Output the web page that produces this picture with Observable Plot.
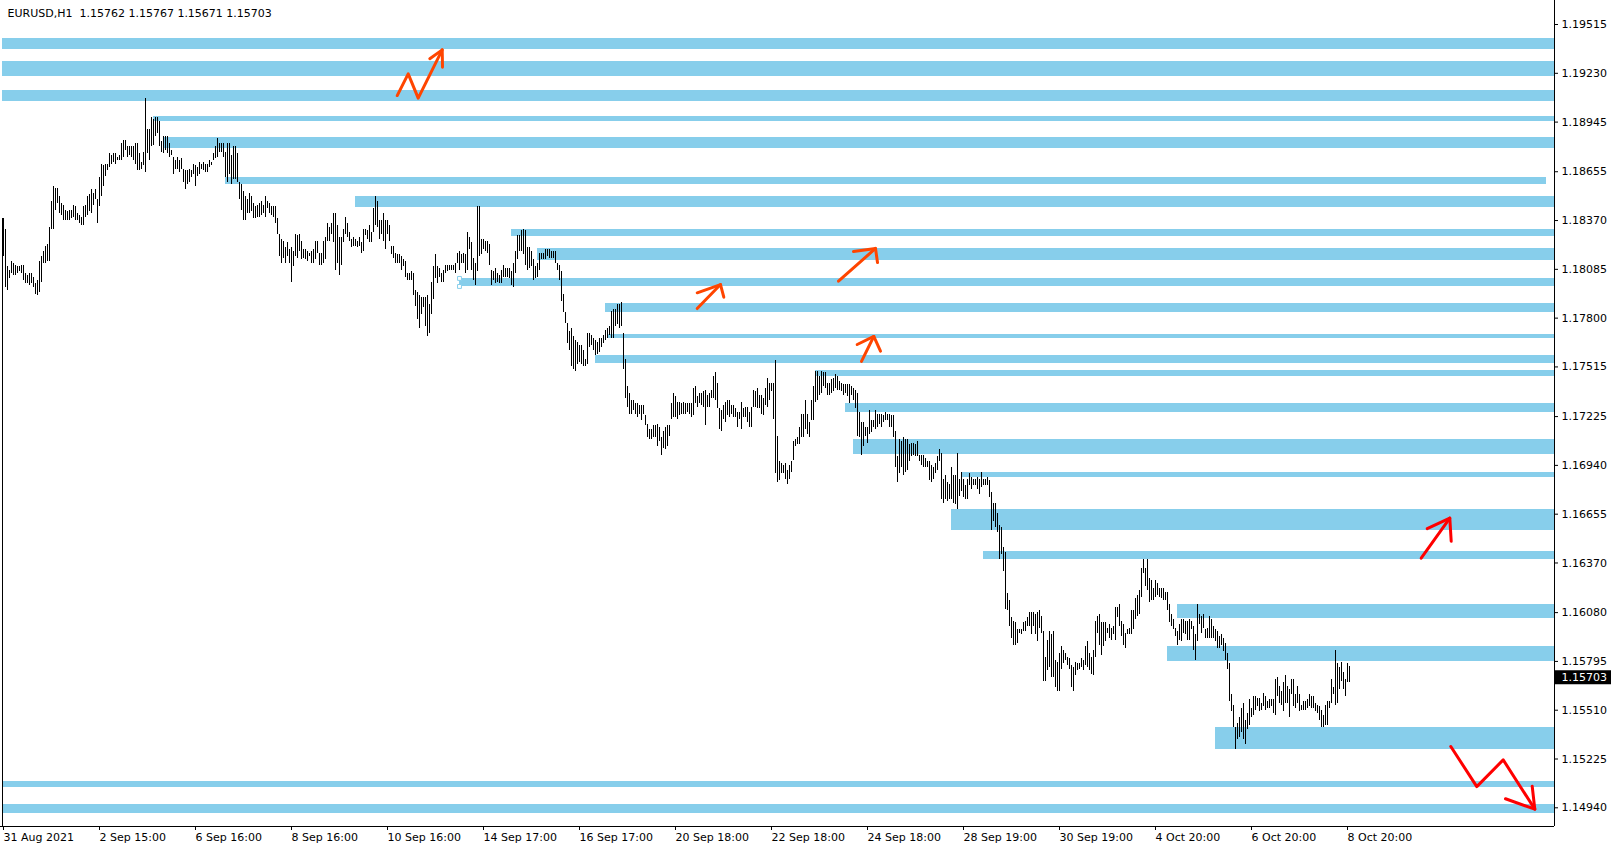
<!DOCTYPE html>
<html>
<head>
<meta charset="utf-8">
<script src="https://cdn.jsdelivr.net/npm/d3@7"></script>
<script src="https://cdn.jsdelivr.net/npm/@observablehq/plot@0.6"></script>
<style>
  html, body { margin: 0; padding: 0; background: #ffffff; overflow: hidden; }
  #chart { width: 1618px; height: 850px; }
</style>
</head>
<body>
<div id="chart"></div>
<script>
// ---- last bar (title) ----
const symbolName = "EURUSD,H1";
const lastOpen = 1.15762, lastHigh = 1.15767, lastLow = 1.15671, lastClose = 1.15703;

// ---- hourly bars: highs / lows (31 Aug 2021 -> 8 Oct 2021) ----
const highs = [
1.1838,1.1832,1.1810,1.1808,1.1813,1.1812,1.1811,1.1810,1.1810,1.1811,1.1811,1.1806,1.1805,1.1806,1.1806,1.1804,1.1800,1.1802,1.1813,1.1816,
1.1819,1.1822,1.1823,1.1833,1.1848,1.1857,1.1856,1.1856,1.1851,1.1847,1.1846,1.1843,1.1842,1.1843,1.1843,1.1846,1.1845,1.1841,1.1840,1.1839,
1.1845,1.1846,1.1851,1.1852,1.1855,1.1853,1.1855,1.1849,1.1862,1.1870,1.1869,1.1870,1.1870,1.1876,1.1875,1.1876,1.1876,1.1874,1.1875,1.1882,
1.1884,1.1884,1.1880,1.1880,1.1880,1.1880,1.1882,1.1882,1.1876,1.1871,1.1877,1.1908,1.1890,1.1890,1.1897,1.1896,1.1897,1.1897,1.1895,1.1883,
1.1886,1.1886,1.1886,1.1882,1.1878,1.1874,1.1872,1.1874,1.1872,1.1873,1.1867,1.1866,1.1866,1.1867,1.1866,1.1870,1.1869,1.1868,1.1871,1.1870,
1.1871,1.1870,1.1870,1.1872,1.1871,1.1876,1.1880,1.1885,1.1882,1.1882,1.1882,1.1877,1.1882,1.1882,1.1875,1.1880,1.1880,1.1876,1.1859,1.1858,
1.1854,1.1851,1.1849,1.1853,1.1851,1.1847,1.1845,1.1846,1.1847,1.1848,1.1846,1.1851,1.1848,1.1847,1.1845,1.1845,1.1845,1.1838,1.1829,1.1826,
1.1825,1.1821,1.1824,1.1820,1.1821,1.1819,1.1829,1.1828,1.1829,1.1825,1.1820,1.1820,1.1819,1.1818,1.1819,1.1820,1.1825,1.1825,1.1818,1.1818,
1.1825,1.1827,1.1835,1.1833,1.1835,1.1841,1.1841,1.1834,1.1827,1.1827,1.1832,1.1839,1.1835,1.1830,1.1826,1.1827,1.1826,1.1825,1.1827,1.1824,
1.1832,1.1832,1.1831,1.1834,1.1830,1.1844,1.1851,1.1848,1.1837,1.1837,1.1841,1.1837,1.1837,1.1834,1.1822,1.1822,1.1818,1.1817,1.1817,1.1816,
1.1814,1.1813,1.1806,1.1806,1.1807,1.1806,1.1796,1.1795,1.1793,1.1792,1.1792,1.1792,1.1793,1.1788,1.1801,1.1810,1.1817,1.1810,1.1809,1.1806,
1.1808,1.1811,1.1811,1.1811,1.1811,1.1811,1.1812,1.1818,1.1819,1.1817,1.1818,1.1817,1.1830,1.1827,1.1824,1.1815,1.1812,1.1845,1.1845,1.1826,
1.1826,1.1825,1.1825,1.1823,1.1808,1.1807,1.1809,1.1806,1.1805,1.1808,1.1811,1.1809,1.1809,1.1809,1.1807,1.1812,1.1819,1.1828,1.1828,1.1831,
1.1832,1.1831,1.1821,1.1821,1.1819,1.1814,1.1810,1.1812,1.1818,1.1818,1.1818,1.1820,1.1820,1.1820,1.1819,1.1819,1.1819,1.1812,1.1811,1.1807,
1.1794,1.1783,1.1777,1.1772,1.1774,1.1769,1.1767,1.1766,1.1764,1.1764,1.1761,1.1756,1.1771,1.1771,1.1770,1.1768,1.1767,1.1766,1.1768,1.1768,
1.1770,1.1773,1.1774,1.1775,1.1784,1.1785,1.1785,1.1788,1.1788,1.1789,1.1771,1.1756,1.1740,1.1736,1.1732,1.1732,1.1730,1.1730,1.1729,1.1729,
1.1729,1.1723,1.1718,1.1715,1.1715,1.1717,1.1717,1.1718,1.1716,1.1710,1.1714,1.1716,1.1717,1.1717,1.1730,1.1736,1.1734,1.1731,1.1731,1.1730,
1.1731,1.1730,1.1730,1.1730,1.1730,1.1739,1.1740,1.1734,1.1736,1.1736,1.1737,1.1738,1.1735,1.1736,1.1738,1.1746,1.1748,1.1742,1.1727,1.1726,
1.1729,1.1731,1.1732,1.1732,1.1729,1.1729,1.1727,1.1725,1.1725,1.1731,1.1727,1.1728,1.1728,1.1725,1.1728,1.1738,1.1737,1.1739,1.1735,1.1735,
1.1733,1.1739,1.1745,1.1742,1.1742,1.1742,1.1755,1.1711,1.1696,1.1695,1.1694,1.1695,1.1691,1.1694,1.1696,1.1708,1.1709,1.1710,1.1716,1.1724,
1.1724,1.1732,1.1724,1.1719,1.1732,1.1740,1.1749,1.1749,1.1746,1.1749,1.1748,1.1748,1.1742,1.1742,1.1744,1.1745,1.1747,1.1746,1.1743,1.1742,
1.1741,1.1741,1.1741,1.1741,1.1740,1.1739,1.1738,1.1736,1.1725,1.1719,1.1719,1.1716,1.1716,1.1726,1.1720,1.1720,1.1726,1.1724,1.1724,1.1724,
1.1723,1.1725,1.1724,1.1724,1.1723,1.1723,1.1714,1.1699,1.1709,1.1708,1.1710,1.1709,1.1709,1.1706,1.1707,1.1707,1.1706,1.1708,1.1700,1.1700,
1.1700,1.1698,1.1696,1.1696,1.1694,1.1693,1.1695,1.1699,1.1703,1.1701,1.1686,1.1688,1.1684,1.1683,1.1693,1.1688,1.1688,1.1701,1.1686,1.1690,
1.1686,1.1682,1.1686,1.1689,1.1687,1.1686,1.1686,1.1687,1.1686,1.1690,1.1686,1.1686,1.1687,1.1685,1.1678,1.1672,1.1672,1.1666,1.1659,1.1658,
1.1646,1.1643,1.1619,1.1615,1.1605,1.1603,1.1602,1.1598,1.1598,1.1598,1.1602,1.1603,1.1605,1.1608,1.1608,1.1608,1.1607,1.1608,1.1609,1.1606,
1.1597,1.1582,1.1592,1.1597,1.1595,1.1597,1.1580,1.1579,1.1584,1.1588,1.1586,1.1584,1.1582,1.1581,1.1577,1.1576,1.1579,1.1578,1.1578,1.1581,
1.1580,1.1588,1.1591,1.1584,1.1582,1.1586,1.1603,1.1606,1.1607,1.1602,1.1602,1.1602,1.1599,1.1601,1.1599,1.1600,1.1611,1.1611,1.1613,1.1603,
1.1601,1.1596,1.1598,1.1599,1.1609,1.1609,1.1616,1.1618,1.1621,1.1634,1.1639,1.1634,1.1639,1.1628,1.1627,1.1622,1.1627,1.1625,1.1622,1.1622,
1.1622,1.1620,1.1620,1.1613,1.1607,1.1604,1.1599,1.1597,1.1601,1.1604,1.1604,1.1603,1.1603,1.1604,1.1603,1.1600,1.1595,1.1613,1.1607,1.1606,
1.1607,1.1598,1.1599,1.1606,1.1604,1.1600,1.1598,1.1597,1.1594,1.1595,1.1593,1.1590,1.1584,1.1578,1.1560,1.1554,1.1541,1.1543,1.1547,1.1552,
1.1555,1.1545,1.1549,1.1557,1.1552,1.1559,1.1559,1.1558,1.1558,1.1555,1.1561,1.1559,1.1556,1.1557,1.1557,1.1557,1.1569,1.1570,1.1565,1.1562,
1.1567,1.1571,1.1565,1.1563,1.1569,1.1569,1.1560,1.1565,1.1560,1.1554,1.1556,1.1556,1.1557,1.1560,1.1559,1.1559,1.1555,1.1554,1.1553,1.1551,
1.1548,1.1554,1.1556,1.1556,1.1569,1.1564,1.1586,1.1578,1.1576,1.1579,1.1573,1.1569,1.1578,1.15767
];
const lows = [
1.1816,1.1798,1.1796,1.1803,1.1806,1.1805,1.1805,1.1806,1.1807,1.1806,1.1802,1.1800,1.1800,1.1799,1.1800,1.1798,1.1794,1.1793,1.1795,1.1801,
1.1812,1.1812,1.1813,1.1813,1.1832,1.1832,1.1843,1.1847,1.1841,1.1840,1.1837,1.1837,1.1837,1.1837,1.1838,1.1839,1.1837,1.1837,1.1835,1.1834,
1.1834,1.1839,1.1840,1.1842,1.1841,1.1846,1.1849,1.1835,1.1845,1.1851,1.1857,1.1863,1.1866,1.1868,1.1870,1.1871,1.1870,1.1872,1.1872,1.1872,
1.1874,1.1878,1.1874,1.1875,1.1874,1.1872,1.1870,1.1866,1.1866,1.1867,1.1869,1.1865,1.1876,1.1872,1.1880,1.1881,1.1886,1.1888,1.1880,1.1877,
1.1876,1.1878,1.1876,1.1874,1.1875,1.1864,1.1867,1.1867,1.1865,1.1867,1.1859,1.1855,1.1858,1.1859,1.1862,1.1864,1.1857,1.1863,1.1864,1.1867,
1.1866,1.1865,1.1865,1.1868,1.1869,1.1872,1.1873,1.1874,1.1877,1.1877,1.1874,1.1862,1.1859,1.1864,1.1858,1.1861,1.1861,1.1859,1.1849,1.1843,
1.1837,1.1837,1.1841,1.1841,1.1842,1.1838,1.1838,1.1839,1.1839,1.1840,1.1841,1.1839,1.1844,1.1841,1.1840,1.1839,1.1835,1.1829,1.1816,1.1812,
1.1815,1.1812,1.1816,1.1812,1.1801,1.1810,1.1816,1.1815,1.1819,1.1814,1.1815,1.1814,1.1813,1.1816,1.1812,1.1812,1.1814,1.1818,1.1811,1.1811,
1.1812,1.1814,1.1825,1.1825,1.1829,1.1824,1.1808,1.1812,1.1805,1.1811,1.1824,1.1829,1.1827,1.1825,1.1821,1.1822,1.1822,1.1821,1.1822,1.1818,
1.1819,1.1828,1.1826,1.1824,1.1824,1.1830,1.1834,1.1833,1.1826,1.1829,1.1825,1.1820,1.1829,1.1825,1.1817,1.1815,1.1812,1.1812,1.1812,1.1808,
1.1810,1.1804,1.1802,1.1802,1.1802,1.1793,1.1787,1.1779,1.1774,1.1782,1.1786,1.1775,1.1769,1.1771,1.1782,1.1791,1.1803,1.1800,1.1804,1.1801,
1.1801,1.1806,1.1807,1.1808,1.1808,1.1808,1.1806,1.1812,1.1808,1.1812,1.1812,1.1806,1.1808,1.1820,1.1808,1.1802,1.1799,1.1807,1.1816,1.1817,
1.1820,1.1819,1.1818,1.1811,1.1799,1.1802,1.1800,1.1801,1.1800,1.1800,1.1804,1.1804,1.1804,1.1803,1.1799,1.1798,1.1806,1.1814,1.1819,1.1819,
1.1817,1.1811,1.1808,1.1809,1.1810,1.1802,1.1803,1.1804,1.1808,1.1814,1.1814,1.1814,1.1816,1.1815,1.1815,1.1815,1.1812,1.1808,1.1802,1.1790,
1.1783,1.1777,1.1765,1.1761,1.1752,1.1750,1.1749,1.1753,1.1754,1.1753,1.1752,1.1752,1.1753,1.1763,1.1764,1.1761,1.1758,1.1759,1.1760,1.1763,
1.1765,1.1767,1.1768,1.1770,1.1768,1.1768,1.1775,1.1776,1.1774,1.1775,1.1750,1.1733,1.1728,1.1724,1.1724,1.1726,1.1724,1.1722,1.1724,1.1720,
1.1724,1.1717,1.1710,1.1709,1.1709,1.1710,1.1710,1.1705,1.1708,1.1700,1.1704,1.1703,1.1705,1.1711,1.1721,1.1722,1.1722,1.1721,1.1723,1.1724,
1.1724,1.1724,1.1725,1.1724,1.1722,1.1723,1.1730,1.1728,1.1730,1.1729,1.1728,1.1717,1.1728,1.1728,1.1733,1.1733,1.1732,1.1727,1.1715,1.1714,
1.1721,1.1719,1.1723,1.1722,1.1724,1.1722,1.1722,1.1716,1.1721,1.1715,1.1722,1.1722,1.1719,1.1716,1.1716,1.1728,1.1728,1.1727,1.1727,1.1724,
1.1723,1.1729,1.1728,1.1732,1.1737,1.1721,1.1689,1.1684,1.1685,1.1689,1.1689,1.1686,1.1683,1.1686,1.1690,1.1697,1.1705,1.1706,1.1706,1.1710,
1.1710,1.1715,1.1712,1.1710,1.1720,1.1720,1.1731,1.1732,1.1735,1.1736,1.1740,1.1739,1.1735,1.1735,1.1736,1.1737,1.1739,1.1738,1.1738,1.1737,
1.1735,1.1736,1.1734,1.1730,1.1735,1.1732,1.1727,1.1711,1.1710,1.1700,1.1705,1.1711,1.1707,1.1712,1.1713,1.1716,1.1715,1.1716,1.1718,1.1716,
1.1719,1.1720,1.1720,1.1716,1.1716,1.1710,1.1693,1.1684,1.1689,1.1693,1.1688,1.1690,1.1691,1.1696,1.1699,1.1700,1.1699,1.1699,1.1696,1.1694,
1.1693,1.1693,1.1693,1.1685,1.1684,1.1686,1.1689,1.1691,1.1696,1.1674,1.1672,1.1674,1.1673,1.1674,1.1674,1.1672,1.1671,1.1668,1.1676,1.1679,
1.1675,1.1674,1.1674,1.1682,1.1680,1.1682,1.1682,1.1680,1.1677,1.1681,1.1682,1.1682,1.1682,1.1675,1.1656,1.1661,1.1658,1.1655,1.1639,1.1642,
1.1632,1.1610,1.1609,1.1600,1.1593,1.1589,1.1589,1.1590,1.1596,1.1595,1.1597,1.1597,1.1600,1.1600,1.1595,1.1600,1.1595,1.1591,1.1599,1.1596,
1.1568,1.1568,1.1574,1.1576,1.1570,1.1570,1.1564,1.1562,1.1562,1.1575,1.1578,1.1580,1.1577,1.1575,1.1564,1.1562,1.1571,1.1574,1.1575,1.1576,
1.1574,1.1577,1.1576,1.1574,1.1572,1.1571,1.1582,1.1596,1.1589,1.1583,1.1588,1.1591,1.1596,1.1593,1.1592,1.1595,1.1592,1.1605,1.1600,1.1594,
1.1589,1.1587,1.1595,1.1595,1.1595,1.1598,1.1604,1.1606,1.1607,1.1617,1.1631,1.1623,1.1621,1.1614,1.1615,1.1615,1.1617,1.1618,1.1617,1.1616,
1.1615,1.1615,1.1609,1.1602,1.1600,1.1598,1.1594,1.1589,1.1592,1.1591,1.1596,1.1595,1.1592,1.1592,1.1598,1.1586,1.1580,1.1591,1.1601,1.1596,
1.1599,1.1593,1.1593,1.1593,1.1593,1.1593,1.1591,1.1587,1.1587,1.1589,1.1585,1.1580,1.1575,1.1556,1.1550,1.1541,1.1528,1.1534,1.1535,1.1538,
1.1534,1.1531,1.1540,1.1542,1.1547,1.1548,1.1551,1.1553,1.1550,1.1551,1.1553,1.1551,1.1552,1.1552,1.1553,1.1549,1.1548,1.1559,1.1555,1.1554,
1.1550,1.1555,1.1555,1.1547,1.1560,1.1553,1.1552,1.1555,1.1550,1.1551,1.1551,1.1551,1.1552,1.1553,1.1552,1.1552,1.1550,1.1549,1.1545,1.1541,
1.1541,1.1542,1.1542,1.1552,1.1555,1.1560,1.1554,1.1555,1.1563,1.1568,1.1563,1.1559,1.1567,1.15671
];

// ---- time axis labels (every 48 hourly bars) ----
const xTickIndex = [0, 48, 96, 144, 192, 240, 288, 336, 384, 432, 480, 528, 576, 624, 672];
const xTickLabels = ["31 Aug 2021", "2 Sep 15:00", "6 Sep 16:00", "8 Sep 16:00", "10 Sep 16:00",
  "14 Sep 17:00", "16 Sep 17:00", "20 Sep 18:00", "22 Sep 18:00", "24 Sep 18:00",
  "28 Sep 19:00", "30 Sep 19:00", "4 Oct 20:00", "6 Oct 20:00", "8 Oct 20:00"];

// ---- price axis labels ----
const yTicks = [1.19515, 1.19230, 1.18945, 1.18655, 1.18370, 1.18085, 1.17800, 1.17515,
  1.17225, 1.16940, 1.16655, 1.16370, 1.16080, 1.15795, 1.15510, 1.15225, 1.14940];

// ---- supply / demand zones (sky blue rectangles) ----
const zoneTop    = [1.19433,1.19299,1.19130,1.18978,1.18855,1.18621,1.18510,1.18318,1.18207,1.18032,1.17886,1.17704,1.17582,1.17494,1.17301,1.17091,1.16898,1.16682,1.16437,1.16127,1.15882,1.15409,1.15094,1.14959];
const zoneBottom = [1.19369,1.19211,1.19065,1.18949,1.18791,1.18581,1.18446,1.18277,1.18137,1.17985,1.17833,1.17681,1.17535,1.17459,1.17249,1.17004,1.16869,1.16560,1.16390,1.16046,1.15795,1.15281,1.15059,1.14907];
const zoneStart  = [-0.5,-0.5,-0.5,75,80,111,176,254,267,228,301,302,296,406,421,425,479,474,490,587,582,606,-0.5,-0.5];
const zoneEnd    = [775.5,775.5,775.5,775.5,775.5,771.5,775.5,775.5,775.5,775.5,775.5,775.5,775.5,775.5,775.5,775.5,775.5,775.5,775.5,775.5,775.5,775.5,775.5,775.5];
const selectedZone = 9; // rectangle with selection handles

// ---- hand-drawn arrows: [bar index, price] ----
const arrowsOrange = [
  [[196.85,1.19100],[202.35,1.19227],[207.35,1.19085],[219.35,1.19367]],
  [[213.15,1.19315],[219.35,1.19367],[219.5,1.19266]],
  [[346.85,1.17856],[358.5,1.17996]],
  [[346.85,1.17948],[358.5,1.17996],[360.15,1.17922]],
  [[417.5,1.18016],[436,1.18207]],
  [[425,1.18189],[436,1.18207],[437,1.18125]],
  [[429,1.17547],[435.15,1.17693]],
  [[426.85,1.17646],[435.15,1.17693],[438.5,1.17607]]
];
const arrowsRed = [
  [[708.85,1.16398],[723.15,1.16632]],
  [[711.85,1.16570],[723.15,1.16632],[723.85,1.16497]],
  [[723.65,1.15298],[736.65,1.15064],[749.85,1.15220],[765.65,1.14932]],
  [[751,1.14993],[765.65,1.14932],[764.35,1.15066]]
];

// ---- build tables ----
const bars = highs.map((h, i) => ({i, high: h, low: lows[i]}));
const zones = zoneTop.map((t, k) => ({x1: zoneStart[k], x2: zoneEnd[k], top: t, bottom: zoneBottom[k]}));
const toPts = (list) => list.flatMap((seg, g) => seg.map(([x, y]) => ({x, y, g})));
const orangePts = toPts(arrowsOrange);
const redPts = toPts(arrowsRed);
const handles = [
  {x: zoneStart[selectedZone], y: zoneTop[selectedZone]},
  {x: zoneStart[selectedZone], y: zoneBottom[selectedZone]}
];
const xMin = -1.5, xMax = 775.5;
const yMin = 1.148308, yMax = 1.196552;
const titleText = `${symbolName}\u00a0\u00a0${lastOpen.toFixed(5)} ${lastHigh.toFixed(5)} ${lastLow.toFixed(5)} ${lastClose.toFixed(5)}`;

const chart = Plot.plot({
  width: 1618,
  height: 850,
  marginTop: 0,
  marginLeft: 0,
  marginRight: 64,
  marginBottom: 24,
  style: {fontFamily: "'DejaVu Sans', sans-serif", fontSize: "11px", background: "#ffffff", color: "#000000"},
  x: {domain: [xMin, xMax], axis: null},
  y: {domain: [yMin, yMax], axis: null},
  marks: [
    Plot.rect(zones, {x1: "x1", x2: "x2", y1: "bottom", y2: "top", fill: "#87CEEB", shapeRendering: "crispEdges"}),
    Plot.ruleX(bars, {x: "i", y1: "low", y2: "high", stroke: "#000000", strokeWidth: 1, shapeRendering: "crispEdges"}),
    Plot.ruleX([-0.5], {y1: yMin, y2: highs[0], stroke: "#000000", strokeWidth: 1, shapeRendering: "crispEdges"}),
    Plot.dot(handles, {x: "x", y: "y", symbol: "square", r: 2.2, fill: "#ffffff", stroke: "#87CEEB", strokeWidth: 1}),
    Plot.line(orangePts, {x: "x", y: "y", z: "g", stroke: "#FF4500", strokeWidth: 3, strokeLinejoin: "round", strokeLinecap: "round"}),
    Plot.line(redPts, {x: "x", y: "y", z: "g", stroke: "#FF0000", strokeWidth: 3, strokeLinejoin: "round", strokeLinecap: "round"}),
    Plot.ruleX([xMax], {stroke: "#000000", strokeWidth: 1}),
    Plot.ruleY([yMin], {stroke: "#000000", strokeWidth: 1}),
    Plot.axisY({anchor: "right", ticks: yTicks, tickFormat: d => d.toFixed(5), tickSize: 3, tickPadding: 4, label: null, fontSize: 11}),
    Plot.axisX({anchor: "bottom", ticks: xTickIndex, tickFormat: d => xTickLabels[xTickIndex.indexOf(d)], textAnchor: "start", tickSize: 4, tickPadding: 3, label: null, fontSize: 11}),
    Plot.ruleY([lastClose], {x1: xMax + 0.5, x2: xMax + 28.5, stroke: "#000000", strokeWidth: 14}),
    Plot.text([lastClose], {y: d => d, text: d => d.toFixed(5), frameAnchor: "right", dx: 7, textAnchor: "start", fill: "#ffffff", fontSize: 11}),
    Plot.text([titleText], {text: d => d, frameAnchor: "top-left", dx: 7, dy: 12.8, textAnchor: "start", lineAnchor: "middle", fontSize: 11, fill: "#000000"})
  ]
});
document.getElementById("chart").appendChild(chart);
</script>
</body>
</html>
